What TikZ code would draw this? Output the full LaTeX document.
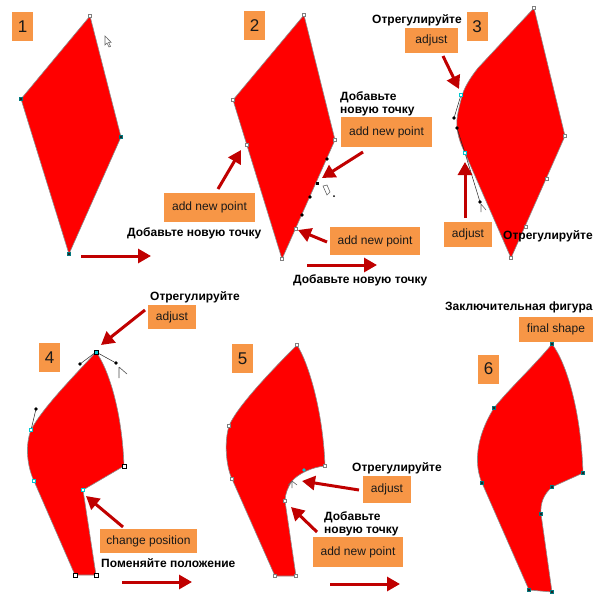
\documentclass[tikz,border=0pt]{standalone}
\usepackage{fontspec}
\setmainfont{Liberation Sans}
\usetikzlibrary{arrows.meta}
\definecolor{shred}{RGB}{255,0,0}
\definecolor{lblor}{RGB}{247,150,70}
\definecolor{arrred}{RGB}{192,0,0}
\definecolor{hcy}{RGB}{0,200,210}
\tikzset{
  fig/.style={fill=shred, draw=black!45, line width=0.6pt, line join=round},
  lbl/.style={fill=lblor, inner sep=0pt, font=\fontsize{12}{14}\selectfont, text=black!90},
  num/.style={fill=lblor, inner sep=0pt, minimum width=21pt, minimum height=29pt, font=\fontsize{17}{17}\selectfont, text=black!90},
  rus/.style={anchor=west, inner sep=0pt, font=\bfseries\fontsize{12}{13}\selectfont, align=left},
  bigarrow/.style={draw=arrred, line width=3pt, -{Triangle[length=13pt,width=14pt]}},
  hline/.style={draw=black!85, line width=0.5pt},
  curs/.style={draw=black!60, line width=0.6pt, fill=white},
}
\newcommand\hgray[1]{\filldraw[draw=gray, fill=white, line width=0.6pt] (#1) ++(-1.6,-1.6) rectangle ++(3.2,3.2);}
\newcommand\hblk[1]{\filldraw[draw=black, fill=white, line width=0.6pt] (#1) ++(-2,-2) rectangle ++(4,4);}
\newcommand\hcyan[1]{\filldraw[draw=hcy, fill=white, line width=0.7pt] (#1) ++(-1.8,-1.8) rectangle ++(3.6,3.6);}
\newcommand\hdark[1]{\filldraw[draw=hcy!60!black, fill=black!85, line width=0.4pt] (#1) ++(-1.5,-1.5) rectangle ++(3,3);}
\newcommand\hdot[1]{\fill[black] (#1) circle (1.9pt);}
\begin{document}
\begin{tikzpicture}[x=1pt,y=-1pt]
\useasboundingbox[fill=white] (0,0) rectangle (600,600);

% ---------- Panel 1 ----------
\node[num] (n1) at (22.5,26.5) {1};
\draw[fig] (90,16) -- (121,137) -- (69,254) -- (21,99) -- cycle;
\hgray{90,16} \hdark{21,99} \hdark{121,137} \hdark{69,254}
\draw[curs] (105,36) -- (105,45) -- (107,43) -- (109,47) -- (110.5,46.3) -- (108.6,42.4) -- (111.2,42.4) -- cycle;
\node[rus] (t1) at (127,233) {Добавьте новую точку};
\coordinate (a1s) at (81,256); \coordinate (a1e) at (151,256);
\draw[bigarrow] (a1s) -- (a1e);

% ---------- Panel 2 ----------
\node[num] (n2) at (254.5,25.5) {2};
\draw[fig] (304,15) -- (335,140) -- (282,259) -- (233,100) -- cycle;
\hgray{304,15} \hgray{233,100} \hgray{335,140} \hgray{282,259}
\hgray{247,145} \hgray{296,229}
\hdot{327,159} \hdot{310,197} \hdot{302,215}
\fill[black] (315.5,181.5) rectangle (319,185);
\draw[curs] (323,186) -- (327,185) -- (330,192) -- (327,195) -- cycle;
\fill[black] (334,196) circle (1pt);
\node[rus] (t2a) at (340,103.5) {Добавьте\\новую точку};
\node[lbl, minimum width=91pt, minimum height=30pt] (b2a) at (386.5,132) {add new point};
\coordinate (a2as) at (363,152); \coordinate (a2ae) at (322,178);
\draw[bigarrow] (a2as) -- (a2ae);
\node[lbl, minimum width=91pt, minimum height=29pt] (b2b) at (209.5,207.5) {add new point};
\coordinate (a2bs) at (218,189); \coordinate (a2be) at (241,150);
\draw[bigarrow] (a2bs) -- (a2be);
\node[lbl, minimum width=90pt, minimum height=28pt] (b2c) at (375,241) {add new point};
\coordinate (a2cs) at (327,242); \coordinate (a2ce) at (298,230);
\draw[bigarrow] (a2cs) -- (a2ce);
\coordinate (a2ds) at (307,265); \coordinate (a2de) at (377,265);
\draw[bigarrow] (a2ds) -- (a2de);
\node[rus] (t2b) at (293,280) {Добавьте новую точку};

% ---------- Panel 3 ----------
\node[num] (n3) at (477,26.5) {3};
\draw[fig] (534,8) -- (478,68) .. controls (470,78) and (464,88) .. (462,96)
  .. controls (459,108) and (456,118) .. (457,127)
  .. controls (458,138) and (462,147) .. (465,153)
  -- (511,258) -- (565,136) -- cycle;
\draw[hline] (461,95) -- (454,118);
\draw[hline] (457,128) -- (465,153) -- (480,202);
\hdot{454,118} \hdot{457,128} \hdot{480,202}
\hcyan{461,95} \hcyan{465,153}
\hgray{534,8} \hgray{565,136} \hgray{511,258} \hgray{547,179} \hgray{526,227}
\draw[black!60, line width=0.6pt] (481,204) -- (481,212) (481,204) -- (486,210);
\node[rus] (t3a) at (372,20) {Отрегулируйте};
\node[lbl, minimum width=53pt, minimum height=25pt] (b3a) at (431.5,40.5) {adjust};
\coordinate (a3as) at (443,56); \coordinate (a3ae) at (459,89);
\draw[bigarrow] (a3as) -- (a3ae);
\node[lbl, minimum width=48pt, minimum height=25pt] (b3b) at (468,234.5) {adjust};
\coordinate (a3bs) at (465,218); \coordinate (a3be) at (465,162);
\draw[bigarrow] (a3bs) -- (a3be);
\node[rus] (t3b) at (503,236) {Отрегулируйте};

% ---------- Panel 4 ----------
\node[num] (n4) at (49.5,357.5) {4};
\draw[fig] (96,352) .. controls (108,368) and (122,410) .. (124,466)
  -- (83,490) -- (96,575) -- (75,575) -- (34,481)
  .. controls (27,466) and (25,445) .. (31,430)
  .. controls (42,408) and (78,372) .. (96,352) -- cycle;
\draw[hline] (31,430) -- (36,409);
\draw[hline] (80,364) -- (96,352) -- (116,363);
\hdot{36,409} \hdot{80,364} \hdot{116,363}
\filldraw[draw=black, fill=hcy, line width=0.6pt] (96,352) ++(-2.2,-2.2) rectangle ++(4.4,4.4);
\hcyan{31,430} \hcyan{34,481} \hcyan{83,490}
\hblk{124,466} \hblk{75,575} \hblk{96,575}
\draw[black!70, line width=0.6pt] (119,367) -- (119,378) (119,367) -- (127,374);
\node[rus] (t4a) at (150,297) {Отрегулируйте};
\node[lbl, minimum width=48pt, minimum height=24pt] (b4a) at (172,317) {adjust};
\coordinate (a4as) at (145,310); \coordinate (a4ae) at (101,345);
\draw[bigarrow] (a4as) -- (a4ae);
\node[lbl, minimum width=97pt, minimum height=24pt] (b4b) at (148.5,541) {change position};
\coordinate (a4bs) at (123,527); \coordinate (a4be) at (86,496);
\draw[bigarrow] (a4bs) -- (a4be);
\node[rus] (t4b) at (101,563) {Поменяйте положение};
\coordinate (a4cs) at (122,582); \coordinate (a4ce) at (192,582);
\draw[bigarrow] (a4cs) -- (a4ce);

% ---------- Panel 5 ----------
\node[num] (n5) at (242.5,358.5) {5};
\draw[fig] (297,345) .. controls (308,362) and (323,410) .. (325,466)
  .. controls (312,467) and (298,474) .. (292,481)
  .. controls (288,487) and (285,494) .. (285,501)
  -- (296,576) -- (275,576) -- (232,479)
  .. controls (226,466) and (224,442) .. (229,426)
  .. controls (236,408) and (270,372) .. (297,345) -- cycle;
\hgray{297,345} \hgray{325,466} \hgray{285,501} \hgray{296,576} \hgray{275,576}
\hgray{232,479} \hgray{229,426}
\fill[hcy] (304,470) circle (1.8pt);
\draw[black!60, line width=0.6pt] (292,481) -- (292,488) (292,481) -- (297,485) (292,481) -- (288,485);
\node[rus] (t5a) at (352,468) {Отрегулируйте};
\node[lbl, minimum width=48pt, minimum height=27pt] (b5a) at (387,489.5) {adjust};
\coordinate (a5as) at (359,490); \coordinate (a5ae) at (302,481);
\draw[bigarrow] (a5as) -- (a5ae);
\node[rus] (t5b) at (324,524) {Добавьте\\новую точку};
\node[lbl, minimum width=90pt, minimum height=30pt] (b5b) at (358,552) {add new point};
\coordinate (a5bs) at (317,532); \coordinate (a5be) at (291,507);
\draw[bigarrow] (a5bs) -- (a5be);
\coordinate (a5cs) at (330,584); \coordinate (a5ce) at (400,584);
\draw[bigarrow] (a5cs) -- (a5ce);

% ---------- Panel 6 ----------
\node[num] (n6) at (488.5,369) {6};
\draw[fig] (552,344) .. controls (566,362) and (581,410) .. (583,473)
  -- (552,487)
  .. controls (544,494) and (540,503) .. (541,514)
  -- (552,592) -- (529,590) -- (482,483)
  .. controls (475,467) and (474,440) .. (494,408)
  .. controls (508,390) and (533,367) .. (552,344) -- cycle;
\hdark{552,344} \hdark{583,473} \hdark{552,487} \hdark{541,514}
\hdark{552,592} \hdark{529,590} \hdark{482,483} \hdark{494,408}
\node[rus] (t6) at (445,307) {Заключительная фигура};
\node[lbl, minimum width=74pt, minimum height=25pt] (b6) at (556,329.5) {final shape};
\end{tikzpicture}
\end{document}
